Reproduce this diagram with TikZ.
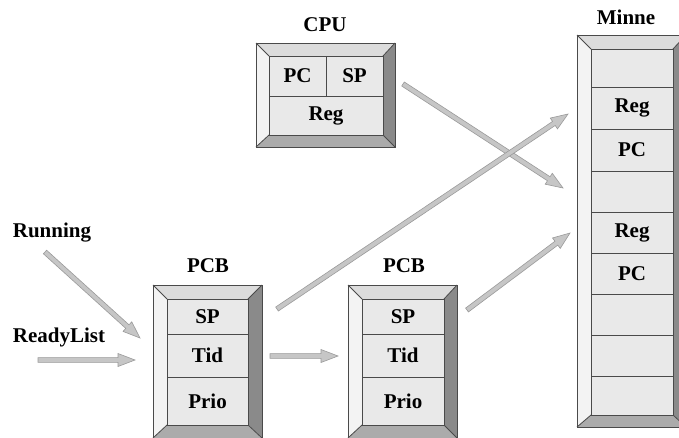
\documentclass[tikz,border=0pt]{standalone}
\usepackage{fontspec}
\setmainfont{Liberation Serif}
\usetikzlibrary{calc}
\definecolor{cellfill}{HTML}{E9E9E9}
\definecolor{topb}{HTML}{DCDCDC}
\definecolor{leftb}{HTML}{F3F3F3}
\definecolor{rightb}{HTML}{8A8A8A}
\definecolor{botb}{HTML}{ABABAB}
\definecolor{edgec}{HTML}{4A4A4A}
\definecolor{arrfill}{HTML}{C6C6C6}
\definecolor{arredge}{HTML}{9A9A9A}
\tikzset{
  edgeline/.style={draw=edgec, line width=0.8pt},
  cell/.style={edgeline, fill=cellfill, inner sep=0pt, font=\fontsize{21}{24}\selectfont\bfseries},
  lbl/.style={inner sep=0pt, font=\fontsize{21}{24}\selectfont\bfseries},
  fatarrow/.style={fill=arrfill, draw=arredge, line width=0.6pt, line join=miter},
}
% bevel frame: outer (x1,y1)-(x2,y2), inner (ix1,iy1)-(ix2,iy2)
\newcommand{\bevelframe}[8]{%
  \fill[topb]   (#1,#2) -- (#3,#2) -- (#7,#6) -- (#5,#6) -- cycle;
  \fill[leftb]  (#1,#2) -- (#5,#6) -- (#5,#8) -- (#1,#4) -- cycle;
  \fill[rightb] (#3,#2) -- (#3,#4) -- (#7,#8) -- (#7,#6) -- cycle;
  \fill[botb]   (#1,#4) -- (#3,#4) -- (#7,#8) -- (#5,#8) -- cycle;
  \draw[edgeline] (#1,#2) rectangle (#3,#4);
  \draw[edgeline] (#1,#2) -- (#5,#6) (#3,#2) -- (#7,#6) (#1,#4) -- (#5,#8) (#3,#4) -- (#7,#8);
}
\newcommand{\fatarr}[2]{%
  \draw[fatarrow]
    ($(#1)!2.4pt!90:(#2)$) --
    ($($(#2)!17pt!(#1)$)!2.4pt!-90:(#1)$) --
    ($($(#2)!17pt!(#1)$)!6.5pt!-90:(#1)$) --
    (#2) --
    ($($(#2)!17pt!(#1)$)!6.5pt!90:(#1)$) --
    ($($(#2)!17pt!(#1)$)!2.4pt!90:(#1)$) --
    ($(#1)!2.4pt!-90:(#2)$) -- cycle;
}
\begin{document}
\begin{tikzpicture}[x=1pt,y=-1pt]
\useasboundingbox (0,0) rectangle (679,437);
\clip (0,0) rectangle (679,437);
\fill[white] (0,0) rectangle (679,437);

% CPU
\bevelframe{256}{43}{395}{147}{269}{56}{383}{135}
\node[cell, minimum width=57pt, minimum height=40pt] (cpupc) at (297.5,76) {PC};
\node[cell, minimum width=57pt, minimum height=40pt] (cpusp) at (354.5,76) {SP};
\node[cell, minimum width=114pt, minimum height=39pt] (cpureg) at (326,115.5) {Reg};
\node[lbl] (cpulbl) at (325,25) {CPU};

% PCB 1
\bevelframe{153}{285}{262}{438}{167}{299}{248}{425}
\node[cell, minimum width=81pt, minimum height=35pt] (p1sp) at (207.5,316.5) {SP};
\node[cell, minimum width=81pt, minimum height=43pt] (p1tid) at (207.5,355.5) {Tid};
\node[cell, minimum width=81pt, minimum height=48pt] (p1prio) at (207.5,401) {Prio};
\node[lbl] (p1lbl) at (208,266) {PCB};

% PCB 2
\bevelframe{348}{285}{457}{438}{362}{299}{444}{425}
\node[cell, minimum width=82pt, minimum height=35pt] (p2sp) at (403,316.5) {SP};
\node[cell, minimum width=82pt, minimum height=43pt] (p2tid) at (403,355.5) {Tid};
\node[cell, minimum width=82pt, minimum height=48pt] (p2prio) at (403,401) {Prio};
\node[lbl] (p2lbl) at (404,266) {PCB};

% Minne
\bevelframe{577}{35}{686}{427}{591}{49}{673}{415}
\node[cell, minimum width=82pt, minimum height=38pt] (m1) at (632,68) {};
\node[cell, minimum width=82pt, minimum height=42pt] (m2) at (632,108) {Reg};
\node[cell, minimum width=82pt, minimum height=42pt] (m3) at (632,150) {PC};
\node[cell, minimum width=82pt, minimum height=41pt] (m4) at (632,191.5) {};
\node[cell, minimum width=82pt, minimum height=41pt] (m5) at (632,232.5) {Reg};
\node[cell, minimum width=82pt, minimum height=41pt] (m6) at (632,273.5) {PC};
\node[cell, minimum width=82pt, minimum height=41pt] (m7) at (632,314.5) {};
\node[cell, minimum width=82pt, minimum height=41pt] (m8) at (632,355.5) {};
\node[cell, minimum width=82pt, minimum height=39pt] (m9) at (632,395.5) {};
\node[lbl] (mlbl) at (626,17) {Minne};

% side labels
\node[lbl] (running) at (52,233) {Running};
\node[lbl] (ready) at (59,337) {ReadyList};

% arrow end points
\coordinate (a1s) at (403,84);  \coordinate (a1e) at (563,188);
\coordinate (a2s) at (277,309); \coordinate (a2e) at (568,114);
\coordinate (a3s) at (467,310); \coordinate (a3e) at (570,233);
\coordinate (a4s) at (45,252);  \coordinate (a4e) at (140,338);
\coordinate (a5s) at (38,360);  \coordinate (a5e) at (135,360);
\coordinate (a6s) at (270,356); \coordinate (a6e) at (338,356);

\fatarr{a1s}{a1e}
\fatarr{a2s}{a2e}
\fatarr{a3s}{a3e}
\fatarr{a4s}{a4e}
\fatarr{a5s}{a5e}
\fatarr{a6s}{a6e}
\end{tikzpicture}
\end{document}
